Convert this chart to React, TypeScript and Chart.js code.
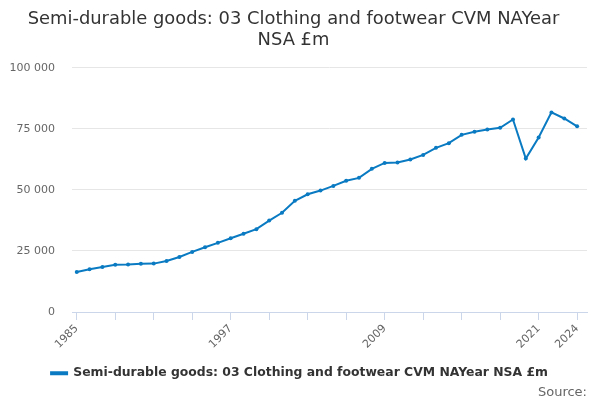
import React, { useEffect, useRef } from "react";
import { Chart, registerables } from "chart.js";

Chart.register(...registerables);

const years: number[] = [
  1985, 1986, 1987, 1988, 1989, 1990, 1991, 1992, 1993, 1994,
  1995, 1996, 1997, 1998, 1999, 2000, 2001, 2002, 2003, 2004,
  2005, 2006, 2007, 2008, 2009, 2010, 2011, 2012, 2013, 2014,
  2015, 2016, 2017, 2018, 2019, 2020, 2021, 2022, 2023, 2024,
];
const values: number[] = [
  16400, 17500, 18400, 19300, 19400, 19700, 19800, 20900, 22500, 24600,
  26500, 28300, 30200, 32000, 33900, 37400, 40600, 45500, 48200, 49700,
  51600, 53700, 54900, 58600, 61000, 61200, 62400, 64300, 67200, 69100,
  72500, 73800, 74700, 75400, 78800, 62800, 71400, 81700, 79200, 76000,
];
const labelledYears: number[] = [1985, 1997, 2009, 2021, 2024];
const yTicks: number[] = [0, 25000, 50000, 75000, 100000];
const seriesName = "Semi-durable goods: 03 Clothing and footwear CVM NAYear NSA £m";
const titleLines: string[] = ["Semi-durable goods: 03 Clothing and footwear CVM NAYear", "NSA £m"];
const sourceText = "Source:";

const FONT = "'DejaVu Sans', sans-serif";
const BLUE = "#0a7bc2";

function fmt(v: number): string {
  return String(v).replace(/\B(?=(\d{3})+(?!\d))/g, " ");
}

const legendTweak = {
  id: "legendTweak",
  afterLayout(chart: any) {
    const lg = chart.legend;
    if (lg) {
      lg.left += 6;
      lg.right += 6;
      lg.top += 5;
      lg.bottom += 5;
      if (typeof lg.adjustHitBoxes === "function") lg.adjustHitBoxes();
    }
  },
  afterDraw(chart: any) {
    const lg = chart.legend;
    if (!lg || !lg.legendHitBoxes || !lg.legendHitBoxes.length) return;
    const hb = lg.legendHitBoxes[0];
    const ctx = chart.ctx;
    ctx.save();
    ctx.fillStyle = BLUE;
    ctx.beginPath();
    ctx.arc(hb.left + 8, hb.top + hb.height / 2, 2, 0, Math.PI * 2);
    ctx.fill();
    ctx.restore();
  },
};

export default function App() {
  const ref = useRef<HTMLCanvasElement | null>(null);
  useEffect(() => {
    if (!ref.current) return;
    const chart = new Chart(ref.current, {
      type: "line",
      data: {
        datasets: [
          {
            label: seriesName,
            data: years.map((y, i) => ({ x: y, y: values[i] })),
            borderColor: BLUE,
            backgroundColor: BLUE,
            borderWidth: 2,
            pointRadius: 2,
            pointHoverRadius: 2,
            pointBackgroundColor: BLUE,
            pointBorderWidth: 0,
            tension: 0,
          },
        ],
      },
      plugins: [legendTweak],
      options: {
        responsive: false,
        animation: false,
        layout: { padding: { left: 0, right: 13, top: 8, bottom: 0 } },
        plugins: {
          title: {
            display: true,
            text: titleLines,
            color: "#333333",
            font: { family: FONT, size: 17.9, weight: "normal", lineHeight: 1.22 },
            padding: { top: 0, bottom: 16 },
          },
          subtitle: {
            display: true,
            text: sourceText,
            position: "bottom",
            align: "end",
            color: "#666666",
            font: { family: FONT, size: 13, weight: "normal", lineHeight: 1.2 },
            padding: { top: 0, bottom: 0 },
          },
          legend: {
            display: true,
            position: "bottom",
            labels: {
              color: "#333333",
              font: { family: FONT, size: 12.4, weight: "bold", lineHeight: 1.2 },
              boxWidth: 16,
              boxHeight: 2,
              padding: 3,
            },
          },
          tooltip: { enabled: false },
        },
        scales: {
          x: {
            type: "linear",
            min: 1984.63,
            max: 2024.77,
            afterBuildTicks: (scale: any) => {
              const t: { value: number }[] = [];
              for (let y = years[0]; y <= years[years.length - 1]; y += 3) t.push({ value: y });
              scale.ticks = t;
            },
            afterFit: (scale: any) => {
              scale.height = 47;
            },
            ticks: {
              autoSkip: false,
              maxRotation: 45,
              minRotation: 45,
              color: "#666666",
              font: { family: FONT, size: 11 },
              padding: 2,
              callback: (v: any) => (labelledYears.includes(Number(v)) ? String(v) : ""),
            },
            grid: {
              drawOnChartArea: false,
              drawTicks: true,
              tickLength: 8,
              color: "#ccd6eb",
            },
            border: { display: true, color: "#ccd6eb", width: 1 },
          },
          y: {
            min: 0,
            max: 100000,
            afterBuildTicks: (scale: any) => {
              scale.ticks = yTicks.map((v) => ({ value: v }));
            },
            afterFit: (scale: any) => {
              scale.width = 72;
            },
            ticks: {
              color: "#666666",
              font: { family: FONT, size: 11 },
              padding: 17,
              callback: (v: any) => fmt(Number(v)),
            },
            grid: { color: "#e6e6e6", drawTicks: false },
            border: { display: false },
          },
        },
      },
    });
    return () => chart.destroy();
  }, []);
  return (
    <div style={{ position: "fixed", left: 0, top: 0, width: 600, height: 400, background: "#fff" }}>
      <canvas ref={ref} width={600} height={400} />
    </div>
  );
}
